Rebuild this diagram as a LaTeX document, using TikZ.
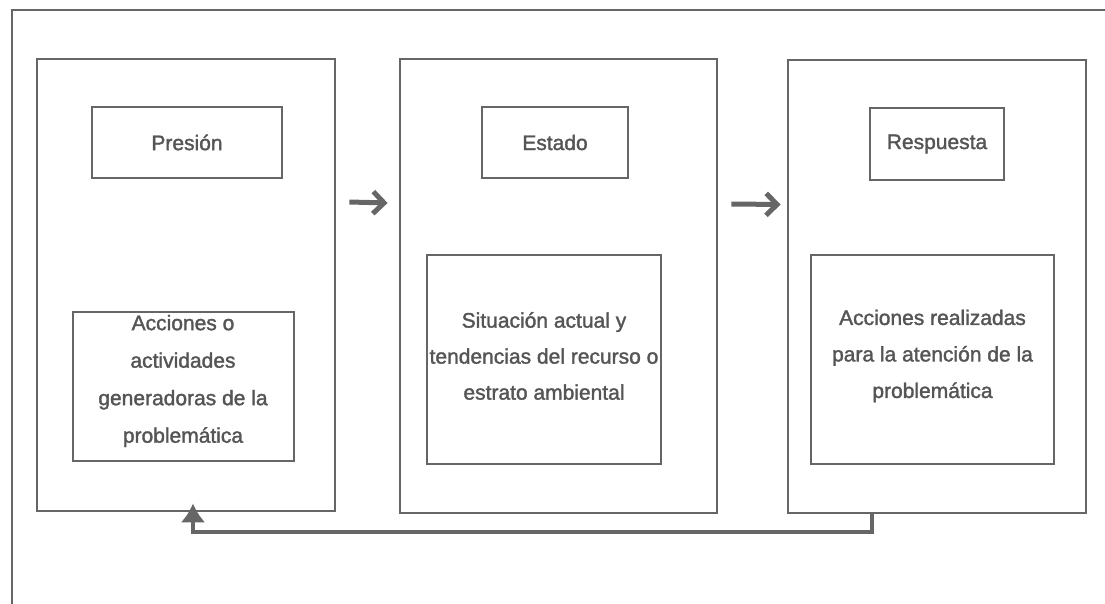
\documentclass[tikz,border=0pt]{standalone}
\usepackage{fontspec}
\setmainfont{Liberation Sans}[FakeBold=1.6]
\usetikzlibrary{arrows.meta}
\definecolor{ln}{HTML}{666666}
\definecolor{tx}{HTML}{555555}
\begin{document}
\begin{tikzpicture}[x=1pt,y=-1pt,
  box/.style={draw=ln, line width=2.8pt, rectangle, inner sep=0pt, text=tx,
    align=center, font=\fontsize{21}{36.5}\selectfont},
  flow/.style={draw=ln, line width=5pt, -{Straight Barb[length=11pt,width=22pt,line width=5pt]}},
  back/.style={draw=ln, line width=4pt, -{Latex[length=19pt,width=25pt]}}]
\useasboundingbox (0,0) rectangle (1105,604);
% outer frame (open at the bottom)
\coordinate (f1) at (12,604);
\coordinate (f2) at (12,10);
\coordinate (f3) at (1105,10);
\draw[ln, line width=2.6pt] (f1) -- (f2) -- (f3);
% columns
\node[box, minimum width=298, minimum height=452] (c1) at (186,285) {};
\node[box, minimum width=317, minimum height=454] (c2) at (558.5,286) {};
\node[box, minimum width=298, minimum height=453] (c3) at (937,286.5) {};
% headers
\node[box, minimum width=190, minimum height=71] (p) at (187,142.5) {Presión};
\node[box, minimum width=146, minimum height=71] (e) at (555,142.5) {Estado};
\node[box, minimum width=134, minimum height=72] (r) at (937,144) {Respuesta};
% descriptions
\node[box, minimum width=221, minimum height=149] (pd) at (183.5,386.5) {};
\node[text=tx, align=center, font=\fontsize{21}{37.5}\selectfont] (pdt) at (183,381)
  {Acciones o\\actividades\\generadoras de la\\problemática};
\node[box, minimum width=234, minimum height=209] (ed) at (544,359.5) {};
\node[text=tx, align=center, font=\fontsize{21}{36}\selectfont] (edt) at (544,356)
  {Situación actual y\\tendencias del recurso o\\estrato ambiental};
\node[box, minimum width=243, minimum height=209] (rd) at (932.5,359.5) {};
\node[text=tx, align=center, font=\fontsize{21}{36.5}\selectfont] (rdt) at (932.5,356)
  {Acciones realizadas\\para la atención de la\\problemática};
% flow arrows
\draw[flow] ([xshift=13pt,yshift=83pt]c1.east) -- ([xshift=-11pt,yshift=83pt]c2.west);
\draw[flow] ([xshift=13pt,yshift=82pt]c2.east) -- ([xshift=-6pt,yshift=82pt]c3.west);
% feedback arrow
\draw[back] ([xshift=-65pt]c3.south) -- ++(0,18) -| ([xshift=7pt,yshift=9pt]c1.south);
\end{tikzpicture}
\end{document}
